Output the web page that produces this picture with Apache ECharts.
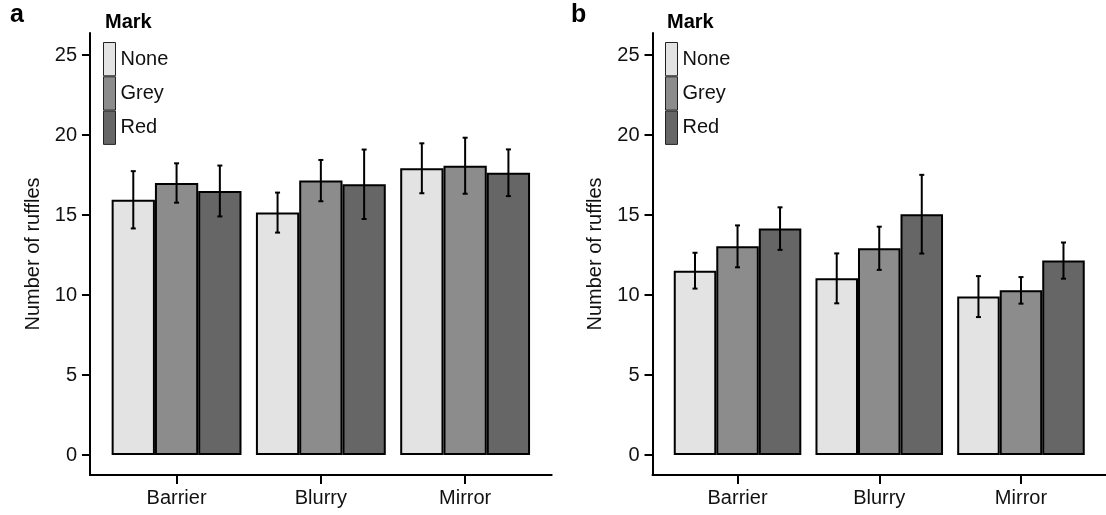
<!DOCTYPE html>
<html>
<head>
<meta charset="utf-8">
<script src="https://cdn.jsdelivr.net/npm/echarts@6/dist/echarts.min.js"></script>
<style>
html,body{margin:0;padding:0;background:#fff;}
#chart{width:1106px;height:515px;}
</style>
</head>
<body>
<div id="chart"></div>
<script>
// ---- data ----
const categories = ['Barrier', 'Blurry', 'Mirror'];
const marks = ['None', 'Grey', 'Red'];
const yTicks = [0, 5, 10, 15, 20, 25];

// Panel a: means and error half-widths (per Mark, over categories)
const aNone = [15.95, 15.15, 17.92];
const aGrey = [17.0, 17.15, 18.08];
const aRed = [16.5, 16.92, 17.64];
const aNoneErr = [1.79, 1.25, 1.56];
const aGreyErr = [1.23, 1.29, 1.75];
const aRedErr = [1.59, 2.17, 1.46];

// Panel b
const bNone = [11.52, 11.04, 9.9];
const bGrey = [13.04, 12.92, 10.29];
const bRed = [14.15, 15.05, 12.15];
const bNoneErr = [1.12, 1.56, 1.28];
const bGreyErr = [1.31, 1.35, 0.83];
const bRedErr = [1.33, 2.46, 1.13];

const colors = ['#e3e3e3', '#8c8c8c', '#666666'];
const FONT = 'Liberation Sans, Arial, Helvetica, sans-serif';

const panels = [
  { means: [aNone, aGrey, aRed], errs: [aNoneErr, aGreyErr, aRedErr] },
  { means: [bNone, bGrey, bRed], errs: [bNoneErr, bGreyErr, bRedErr] }
];

const grids = [
  { left: 90, top: 33, width: 461.7, height: 442 },
  { left: 652.5, top: 33, width: 461, height: 442 }
];

const xAxes = grids.map((g, i) => ({
  type: 'value', gridIndex: i, min: 0.4, max: 3.6,
  axisLine: { show: true, onZero: false, lineStyle: { color: '#000', width: 2 } },
  axisTick: { show: true, length: 9, customValues: [1, 2, 3], lineStyle: { color: '#000', width: 2 } },
  axisLabel: { customValues: [1, 2, 3], formatter: v => categories[Math.round(v) - 1] || '',
    color: '#111', fontSize: 20, fontFamily: FONT, margin: 13 },
  splitLine: { show: false }
}));

const yAxes = grids.map((g, i) => ({
  type: 'value', gridIndex: i, min: -1.25, max: 26.375,
  name: 'Number of ruffles', nameLocation: 'middle', nameGap: 47,
  nameTextStyle: { fontSize: 20, fontFamily: FONT, color: '#111' },
  axisLine: { show: true, onZero: false, lineStyle: { color: '#000', width: 2 } },
  axisTick: { show: true, length: 8, customValues: yTicks, lineStyle: { color: '#000', width: 2 } },
  axisLabel: { customValues: yTicks, color: '#111', fontSize: 20, fontFamily: FONT, margin: 13 },
  splitLine: { show: false }
}));

const series = [];
panels.forEach((p, pi) => {
  marks.forEach((m, mi) => {
    series.push({
      type: 'bar', name: m, xAxisIndex: pi, yAxisIndex: pi,
      barWidth: '30%', barGap: '0%',
      itemStyle: { color: colors[mi], borderColor: '#000', borderWidth: 2 },
      data: p.means[mi].map((v, ci) => [ci + 1, v]),
      z: 2
    });
  });
  marks.forEach((m, mi) => {
    series.push({
      type: 'custom', xAxisIndex: pi, yAxisIndex: pi, z: 5,
      data: p.means[mi].map((v, ci) => [ci + 1, v - p.errs[mi][ci], v + p.errs[mi][ci]]),
      renderItem: (params, api) => {
        const x = api.value(0) + (mi - 1) * 0.3;
        const lo = api.coord([x, api.value(1)]);
        const hi = api.coord([x, api.value(2)]);
        const cw = 2.5;
        const st = { stroke: '#000', lineWidth: 2 };
        return { type: 'group', children: [
          { type: 'line', shape: { x1: lo[0], y1: lo[1], x2: hi[0], y2: hi[1] }, style: st },
          { type: 'line', shape: { x1: lo[0] - cw, y1: lo[1], x2: lo[0] + cw, y2: lo[1] }, style: st },
          { type: 'line', shape: { x1: hi[0] - cw, y1: hi[1], x2: hi[0] + cw, y2: hi[1] }, style: st }
        ]};
      }
    });
  });
});

const legendCommon = {
  orient: 'vertical', icon: 'rect', itemWidth: 12, itemHeight: 33.3, itemGap: 0,
  padding: 0, selectedMode: false, data: marks,
  itemStyle: { borderColor: '#222', borderWidth: 1 },
  textStyle: { fontSize: 20, fontFamily: FONT, color: '#111', padding: [0, 0, 0, 0] }
};

const option = {
  animation: false,
  backgroundColor: '#fff',
  title: [
    { text: 'a', left: 10, top: 3, textStyle: { fontSize: 25, fontWeight: 'bold', fontFamily: FONT, color: '#000' }, padding: 0 },
    { text: 'b', left: 571, top: 3, textStyle: { fontSize: 25, fontWeight: 'bold', fontFamily: FONT, color: '#000' }, padding: 0 },
    { text: 'Mark', left: 105, top: 12, textStyle: { fontSize: 20, fontWeight: 'bold', fontFamily: FONT, color: '#000' }, padding: 0 },
    { text: 'Mark', left: 667, top: 12, textStyle: { fontSize: 20, fontWeight: 'bold', fontFamily: FONT, color: '#000' }, padding: 0 }
  ],
  legend: [
    Object.assign({}, legendCommon, { left: 103, top: 42 }),
    Object.assign({}, legendCommon, { left: 665, top: 42 })
  ],
  grid: grids,
  xAxis: xAxes,
  yAxis: yAxes,
  series: series
};

const chart = echarts.init(document.getElementById('chart'), null, { renderer: 'canvas' });
chart.setOption(option);
</script>
</body>
</html>
